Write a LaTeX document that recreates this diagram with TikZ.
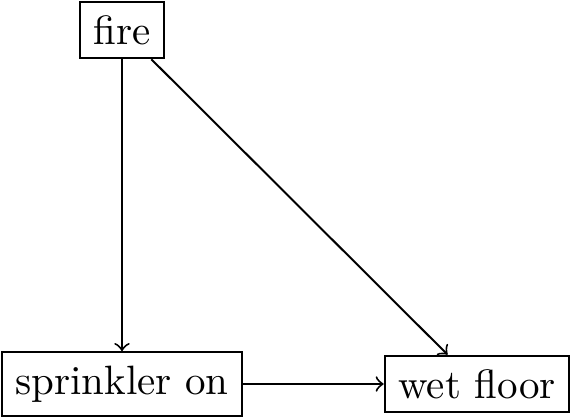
\documentclass[tikz,border=0pt]{standalone}
\begin{document}
\begin{tikzpicture}[x=0.2439pt,y=-0.2439pt,line width=0.48pt,
  box/.style={draw,rectangle,font=\normalsize},
  arr/.style={->}]
\useasboundingbox (0,0) rectangle (571,417);
\node[box] (fire) at (122,30) {fire};
\node[box] (spr) at (122,384) {sprinkler on};
\node[box] (wet) at (477,384) {wet floor};
\draw[arr] (fire) -- (spr);
\draw[arr] (fire) -- (wet);
\draw[arr] (spr) -- (wet);
\end{tikzpicture}
\end{document}
